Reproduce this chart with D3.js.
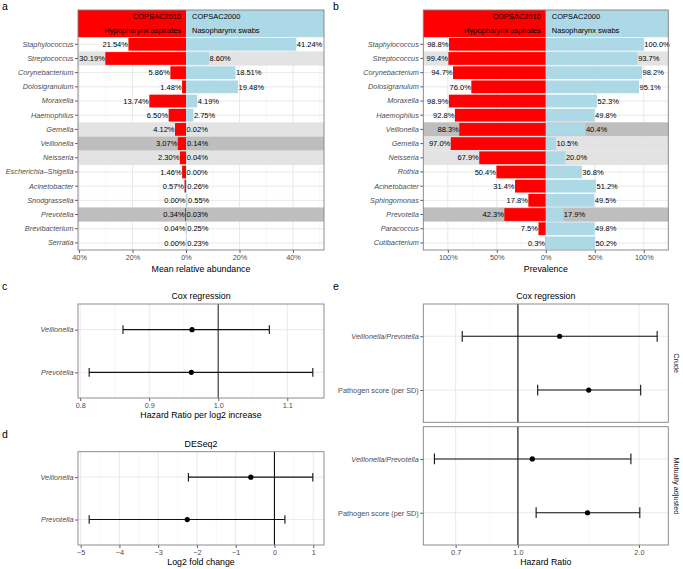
<!DOCTYPE html>
<html><head><meta charset="utf-8">
<script src="https://cdn.jsdelivr.net/npm/d3@7"></script>
<style>
body{margin:0;background:#fff;}
svg{font-family:"Liberation Sans",Arial,Helvetica,sans-serif;display:block;}
</style></head><body>
<svg id="chart" width="683" height="569"></svg>
<script>
// ---------------- data ----------------
const genusA = ["Staphylococcus","Streptococcus","Corynebacterium","Dolosigranulum","Moraxella","Haemophilus","Gemella","Veillonella","Neisseria","Escherichia–Shigella","Acinetobacter","Snodgrassella","Prevotella","Brevibacterium","Serratia"];
const hypoAbund = [21.54,30.19,5.86,1.48,13.74,6.50,4.12,3.07,2.30,1.46,0.57,0.00,0.34,0.04,0.00];
const nasoAbund = [41.24,8.60,18.51,19.48,4.19,2.75,0.02,0.14,0.04,0.00,0.26,0.55,0.03,0.25,0.23];
const genusB = ["Staphylococcus","Streptococcus","Corynebacterium","Dolosigranulum","Moraxella","Haemophilus","Veillonella","Gemella","Neisseria","Rothia","Acinetobacter","Sphingomonas","Prevotella","Paracoccus","Cutibacterium"];
const hypoPrev = [98.8,99.4,94.7,76.0,98.9,92.8,88.3,97.0,67.9,50.4,31.4,17.8,42.3,7.5,0.3];
const nasoPrev = [100.0,93.7,98.2,95.1,52.3,49.8,40.4,10.5,20.0,36.8,51.2,49.5,17.9,49.8,50.2];
const highlightLight = ["Streptococcus","Gemella","Neisseria"];
const highlightDark = ["Veillonella","Prevotella"];
const cohortLeft = ["COPSAC2010","Hypopharynx aspirates"];
const cohortRight = ["COPSAC2000","Nasopharynx swabs"];
const limitsA = [-40.4, 51.6];
const ticksA = [-40,-20,0,20,40];
const limitsB = [-125, 125];
const ticksB = [-100,-50,0,50,100];

const coxTaxa = ["Veillonella","Prevotella"];
const coxHR = [0.962,0.961];
const coxLo = [0.862,0.813];
const coxHi = [1.074,1.137];
const ticksC = [0.8,0.9,1.0,1.1];

const deseqTaxa = ["Veillonella","Prevotella"];
const deseqLFC = [-0.61,-2.25];
const deseqLo = [-2.22,-4.78];
const deseqHi = [0.99,0.27];
const ticksD = [-5,-4,-3,-2,-1,0,1];

const eTerms = ["Veillonella/Prevotella","Pathogen score (per SD)"];
const eModels = ["Crude","Mutually adjusted"];
const crudeHR = [1.27,1.50];
const crudeLo = [0.727,1.12];
const crudeHi = [2.22,2.02];
const adjHR = [1.086,1.49];
const adjLo = [0.62,1.11];
const adjHi = [1.91,2.01];
const ticksE = [0.7,1.0,2.0];

// ---------------- helpers ----------------
const svg = d3.select("#chart");
const FONT = "'Liberation Sans', Arial, Helvetica, sans-serif";
const RED = "#FF0000", BLUE = "#ADD8E6", LIGHT = "#e3e3e3", DARK = "#bebebe";

function styleAxis(g, italic) {
  g.attr("font-family", FONT).attr("font-size", null);
  g.select(".domain").remove();
  g.selectAll(".tick line").attr("stroke", "#333").attr("stroke-width", 0.8);
  g.selectAll(".tick text").attr("fill", "#4d4d4d").attr("font-size", "7.3px")
    .attr("font-style", italic ? "italic" : null);
}
function minorBreaks(majors, dom) {
  const b = majors.slice().sort((a, c) => a - c);
  const ext = [b[0] - (b[1] - b[0]), ...b, b[b.length - 1] + (b[b.length - 1] - b[b.length - 2])];
  const out = [];
  for (let i = 0; i < ext.length - 1; i++) out.push((ext[i] + ext[i + 1]) / 2);
  return out.filter(v => v >= Math.min(...dom) && v <= Math.max(...dom));
}
function vgrid(g, xs, top, bottom, major) {
  g.selectAll(null).data(xs).join("line")
    .attr("x1", d => d).attr("x2", d => d).attr("y1", top).attr("y2", bottom)
    .attr("stroke", major ? "#e6e6e6" : "#f1f1f1").attr("stroke-width", major ? 0.9 : 0.5);
}
function hgrid(g, ys, left, right) {
  g.selectAll(null).data(ys).join("line")
    .attr("x1", left).attr("x2", right).attr("y1", d => d).attr("y2", d => d)
    .attr("stroke", "#e6e6e6").attr("stroke-width", 0.9);
}
function frame(g, L, R, T, B) {
  g.append("rect").attr("x", L).attr("y", T).attr("width", R - L).attr("height", B - T)
    .attr("fill", "none").attr("stroke", "#808080").attr("stroke-width", 0.9);
}
function label(txt, x, y, size, anchor, extra) {
  const t = svg.append("text").attr("x", x).attr("y", y).attr("font-size", size + "px")
    .attr("text-anchor", anchor || "middle").attr("fill", "#000").text(txt);
  if (extra) extra(t);
  return t;
}

// ---------------- pyramid panels (a, b) ----------------
function pyramid(o) {
  const g = svg.append("g");
  const x = d3.scaleLinear().domain(o.limits).range([o.left, o.right]);
  const y = d3.scaleBand().domain(o.genus).range([o.headBottom, o.bottom]).paddingInner(0.1).paddingOuter(0.05);
  const cy = d => y(d) + y.bandwidth() / 2;
  const step = y.step();
  vgrid(g, minorBreaks(o.ticks, o.limits).map(x), o.top, o.bottom, false);
  vgrid(g, o.ticks.map(x), o.top, o.bottom, true);
  hgrid(g, o.genus.map(cy), o.left, o.right);
  // highlight bands
  g.selectAll(null).data(o.genus.filter(d => highlightLight.includes(d) || highlightDark.includes(d))).join("rect")
    .attr("x", o.left).attr("width", o.right - o.left)
    .attr("y", d => cy(d) - step / 2).attr("height", step)
    .attr("fill", d => highlightDark.includes(d) ? DARK : LIGHT);
  const rows = o.genus.map((d, i) => ({ g: d, l: o.leftVals[i], r: o.rightVals[i] }));
  g.selectAll(null).data(rows).join("rect")
    .attr("x", d => x(-d.l)).attr("width", d => x(0) - x(-d.l))
    .attr("y", d => y(d.g)).attr("height", y.bandwidth()).attr("fill", RED);
  g.selectAll(null).data(rows).join("rect")
    .attr("x", x(0)).attr("width", d => x(d.r) - x(0))
    .attr("y", d => y(d.g)).attr("height", y.bandwidth()).attr("fill", BLUE);
  // header
  g.append("rect").attr("x", o.left).attr("width", x(0) - o.left).attr("y", o.top).attr("height", o.headBottom - o.top).attr("fill", RED);
  g.append("rect").attr("x", x(0)).attr("width", o.right - x(0)).attr("y", o.top).attr("height", o.headBottom - o.top).attr("fill", BLUE);
  const hb = [o.top + 9.3, o.top + 23];
  cohortLeft.forEach((t, i) => g.append("text").attr("x", x(0) - 5).attr("y", hb[i]).attr("text-anchor", "end").attr("font-size", "7.5px").text(t));
  cohortRight.forEach((t, i) => g.append("text").attr("x", x(0) + 6).attr("y", hb[i]).attr("text-anchor", "start").attr("font-size", "7.5px").text(t));
  // value labels
  g.selectAll(null).data(rows).join("text")
    .attr("x", d => x(-d.l) - 0.5).attr("y", d => cy(d.g) + 2.7).attr("text-anchor", "end")
    .attr("font-size", "7.5px").text(d => d.l.toFixed(o.dec) + "%");
  g.selectAll(null).data(rows).join("text")
    .attr("x", d => x(d.r) + 0.5).attr("y", d => cy(d.g) + 2.7).attr("text-anchor", "start")
    .attr("font-size", "7.5px").text(d => d.r.toFixed(o.dec) + "%");
  // axes
  g.append("g").attr("transform", `translate(0,${o.bottom})`)
    .call(d3.axisBottom(x).tickValues(o.ticks).tickFormat(d => Math.abs(d) + "%").tickSize(3).tickPadding(2))
    .call(a => styleAxis(a, false));
  g.append("g").attr("transform", `translate(${o.left},0)`)
    .call(d3.axisLeft(y).tickSize(3).tickPadding(1.5))
    .call(a => styleAxis(a, true));
  frame(g, o.left, o.right, o.top, o.bottom);
  label(o.title, (o.left + o.right) / 2, o.bottom + 22, 8.8);
}

pyramid({ genus: genusA, leftVals: hypoAbund, rightVals: nasoAbund, left: 78, right: 324, top: 10, headBottom: 37.2, bottom: 250,
  limits: limitsA, ticks: ticksA, dec: 2, title: "Mean relative abundance" });
pyramid({ genus: genusB, leftVals: hypoPrev, rightVals: nasoPrev, left: 423.3, right: 668.3, top: 10, headBottom: 37.2, bottom: 250,
  limits: limitsB, ticks: ticksB, dec: 1, title: "Prevalence" });

// ---------------- forest panels (c, d, e) ----------------
function expanded(lo, hi, log) {
  if (log) {
    const a = Math.log(lo), b = Math.log(hi), p = 0.05 * (b - a);
    return [Math.exp(a - p), Math.exp(b + p)];
  }
  const p = 0.05 * (hi - lo);
  return [lo - p, hi + p];
}
function forestPanel(o) {
  const g = svg.append("g");
  const x = o.x;
  const y = d3.scalePoint().domain(o.cats).range([o.top, o.bottom]).padding(0.6);
  const step = y.step();
  const tr = o.log ? Math.log : (v => v);
  const inv = o.log ? Math.exp : (v => v);
  const dom = x.domain().map(tr);
  vgrid(g, minorBreaks(o.ticks.map(tr), dom).map(v => x(inv(v))), o.top, o.bottom, false);
  vgrid(g, o.ticks.map(x), o.top, o.bottom, true);
  hgrid(g, o.cats.map(y), o.left, o.right);
  g.append("line").attr("x1", x(o.ref)).attr("x2", x(o.ref)).attr("y1", o.top).attr("y2", o.bottom)
    .attr("stroke", o.refColor).attr("stroke-width", o.refWidth);
  const rows = o.cats.map((c, i) => ({ c, e: o.est[i], lo: o.lo[i], hi: o.hi[i] }));
  const cap = 0.1 * step;
  rows.forEach(d => {
    const yy = y(d.c);
    g.append("line").attr("x1", x(d.lo)).attr("x2", x(d.hi)).attr("y1", yy).attr("y2", yy).attr("stroke", "#111").attr("stroke-width", 1.1);
    [d.lo, d.hi].forEach(v => g.append("line").attr("x1", x(v)).attr("x2", x(v)).attr("y1", yy - cap).attr("y2", yy + cap).attr("stroke", "#111").attr("stroke-width", 1.1));
    g.append("circle").attr("cx", x(d.e)).attr("cy", yy).attr("r", 2.6).attr("fill", "#000");
  });
  const ya = g.append("g").attr("transform", `translate(${o.left},0)`)
    .call(d3.axisLeft(y).tickSize(3).tickPadding(1.5)).call(a => styleAxis(a, false));
  ya.selectAll(".tick text").attr("font-style", d => o.italic(d) ? "italic" : "normal");
  if (o.showX) {
    g.append("g").attr("transform", `translate(0,${o.bottom})`)
      .call(d3.axisBottom(x).tickValues(o.ticks).tickFormat(o.fmt).tickSize(3).tickPadding(2))
      .call(a => styleAxis(a, false));
  }
  frame(g, o.left, o.right, o.top, o.bottom);
  return g;
}

// c
const xC = d3.scaleLinear().domain(expanded(d3.min(coxLo), d3.max(coxHi), false)).range([78, 324]);
forestPanel({ cats: coxTaxa, est: coxHR, lo: coxLo, hi: coxHi, x: xC, left: 78, right: 324, top: 304, bottom: 398,
  ticks: ticksC, fmt: d3.format(".1f"), showX: true, ref: 1, refColor: "#5a5a5a", refWidth: 1.4, italic: () => true });
label("Cox regression", 201, 298.5, 8.8);
label("Hazard Ratio per log2 increase", 201, 418, 8.8);

// d
const xD = d3.scaleLinear().domain(expanded(d3.min(deseqLo), d3.max(deseqHi), false)).range([78, 324]);
forestPanel({ cats: deseqTaxa, est: deseqLFC, lo: deseqLo, hi: deseqHi, x: xD, left: 78, right: 324, top: 451.7, bottom: 545,
  ticks: ticksD, fmt: d3.format("d"), showX: true, ref: 0, refColor: "#111", refWidth: 1.1, italic: () => true });
label("DESeq2", 201, 447, 8.8);
label("Log2 fold change", 201, 565, 8.8);

// e
const allLo = d3.min([...crudeLo, ...adjLo]), allHi = d3.max([...crudeHi, ...adjHi]);
const xE = d3.scaleLog().domain(expanded(allLo, allHi, true)).range([423.3, 668.3]);
const facets = [
  { model: eModels[0], est: crudeHR, lo: crudeLo, hi: crudeHi, top: 304, bottom: 422.3, showX: false },
  { model: eModels[1], est: adjHR, lo: adjLo, hi: adjHi, top: 426.7, bottom: 545, showX: true }
];
facets.forEach(f => {
  forestPanel({ cats: eTerms, est: f.est, lo: f.lo, hi: f.hi, x: xE, left: 423.3, right: 668.3, top: f.top, bottom: f.bottom,
    ticks: ticksE, fmt: d3.format(".1f"), showX: f.showX, ref: 1, refColor: "#111", refWidth: 1.1, italic: d => d.includes("/") });
  svg.append("text").attr("transform", `translate(673.5,${(f.top + f.bottom) / 2}) rotate(90)`)
    .attr("text-anchor", "middle").attr("font-size", "7.3px").attr("fill", "#1a1a1a").text(f.model);
});
label("Cox regression", 545.8, 298.5, 8.8);
label("Hazard Ratio", 545.8, 565, 8.8);

// panel letters
[["a", 2, 10], ["b", 333, 10], ["c", 2, 290], ["e", 333, 290], ["d", 2, 438]].forEach(([t, x, y]) =>
  label(t, x, y, 10.5, "start"));
</script>
</body></html>
